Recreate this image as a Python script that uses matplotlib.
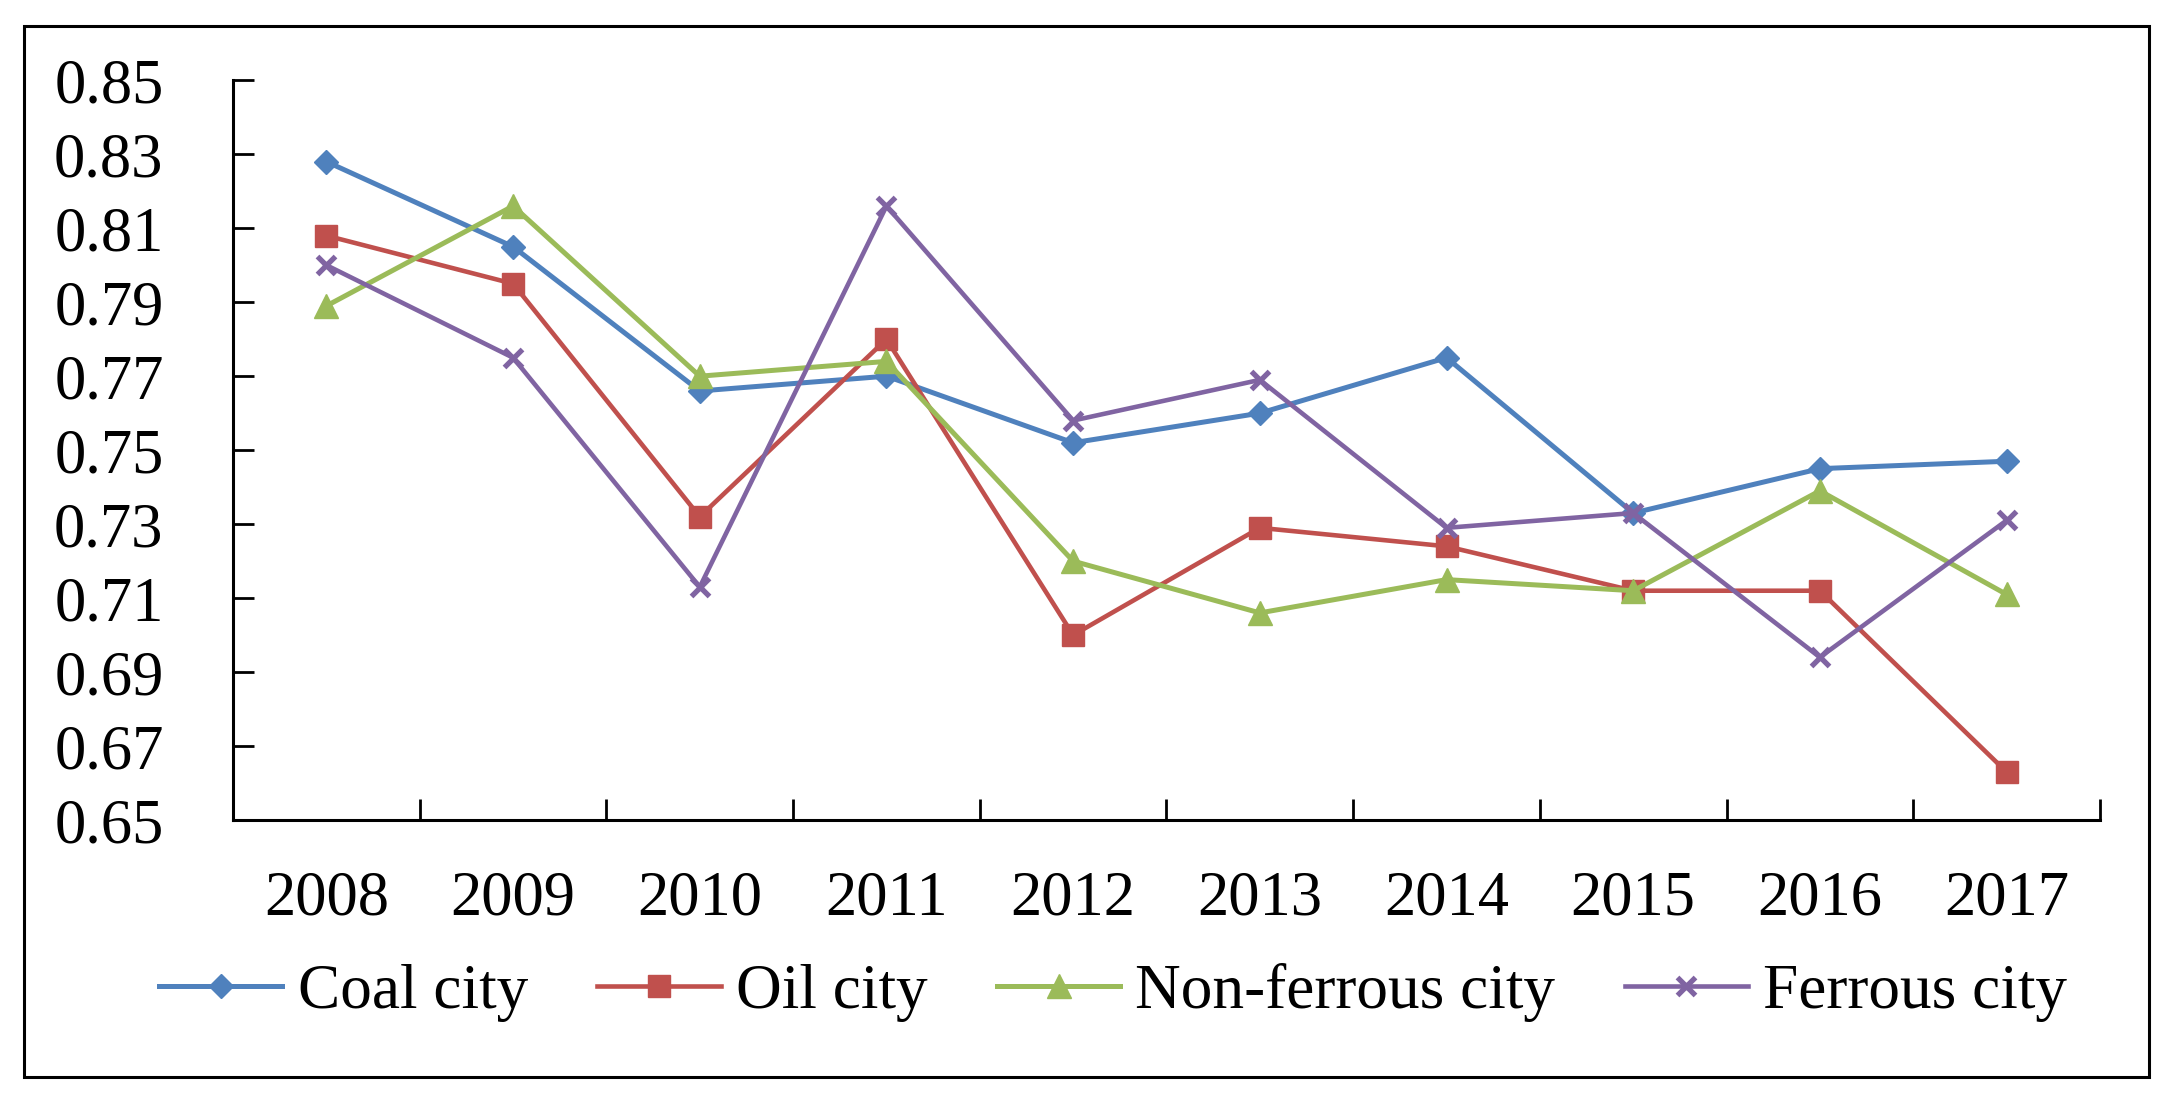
import matplotlib.pyplot as plt
from matplotlib.patches import Rectangle

plt.rcParams["font.family"] = ["Liberation Serif", "DejaVu Serif"]

years = ["2008", "2009", "2010", "2011", "2012", "2013", "2014", "2015", "2016", "2017"]
coal = [0.828, 0.805, 0.766, 0.770, 0.752, 0.760, 0.775, 0.733, 0.745, 0.747]
oil = [0.808, 0.795, 0.732, 0.780, 0.700, 0.729, 0.724, 0.712, 0.712, 0.663]
nonferrous = [0.789, 0.816, 0.770, 0.774, 0.720, 0.706, 0.715, 0.712, 0.739, 0.711]
ferrous = [0.800, 0.775, 0.713, 0.816, 0.758, 0.769, 0.729, 0.733, 0.694, 0.731]
yticks = [0.65, 0.67, 0.69, 0.71, 0.73, 0.75, 0.77, 0.79, 0.81, 0.83, 0.85]

fs = 45

fig = plt.figure(figsize=(21.68, 11.04), dpi=100)
ax = fig.add_axes([0.1075, 0.2572, 0.8611, 0.6701])

x = list(range(len(years)))
ax.plot(x, coal, color="#4F81BD", lw=3.6, marker="D", ms=12, label="Coal city")
ax.plot(x, oil, color="#C0504D", lw=3.3, marker="s", ms=16, label="Oil city")
ax.plot(x, nonferrous, color="#9BBB59", lw=3.6, marker="^", ms=17, label="Non-ferrous city")
ax.plot(x, ferrous, color="#8064A2", lw=3.3, marker="x", ms=13, mew=3.8, label="Ferrous city")

ax.set_xlim(-0.5, len(years) - 0.5)
ax.set_ylim(0.65, 0.85)
ax.set_yticks(yticks)
ax.set_yticklabels([f"{v:.2f}" for v in yticks])
ax.set_xticks(x)
ax.set_xticklabels(years)
ax.set_xticks([i - 0.5 for i in range(len(years) + 1)], minor=True)

ax.tick_params(axis="y", direction="in", length=15, width=2, labelsize=fs, pad=50)
ax.tick_params(axis="x", which="major", length=0, labelsize=fs, pad=36)
ax.tick_params(axis="x", which="minor", direction="in", length=15, width=2)

for s in ["top", "right"]:
    ax.spines[s].set_visible(False)
for s in ["left", "bottom"]:
    ax.spines[s].set_linewidth(2.2)

fig.legend(loc="center", bbox_to_anchor=(0.5135, 0.101), ncol=4, frameon=False,
           fontsize=fs + 0.5, handlelength=1.95, handletextpad=0.24, columnspacing=1.1)

fig.patches.append(Rectangle((0.0111, 0.0248), 0.980, 0.952, transform=fig.transFigure,
                             fill=False, edgecolor="black", lw=2.2))

fig.savefig("out.png", dpi=100)
